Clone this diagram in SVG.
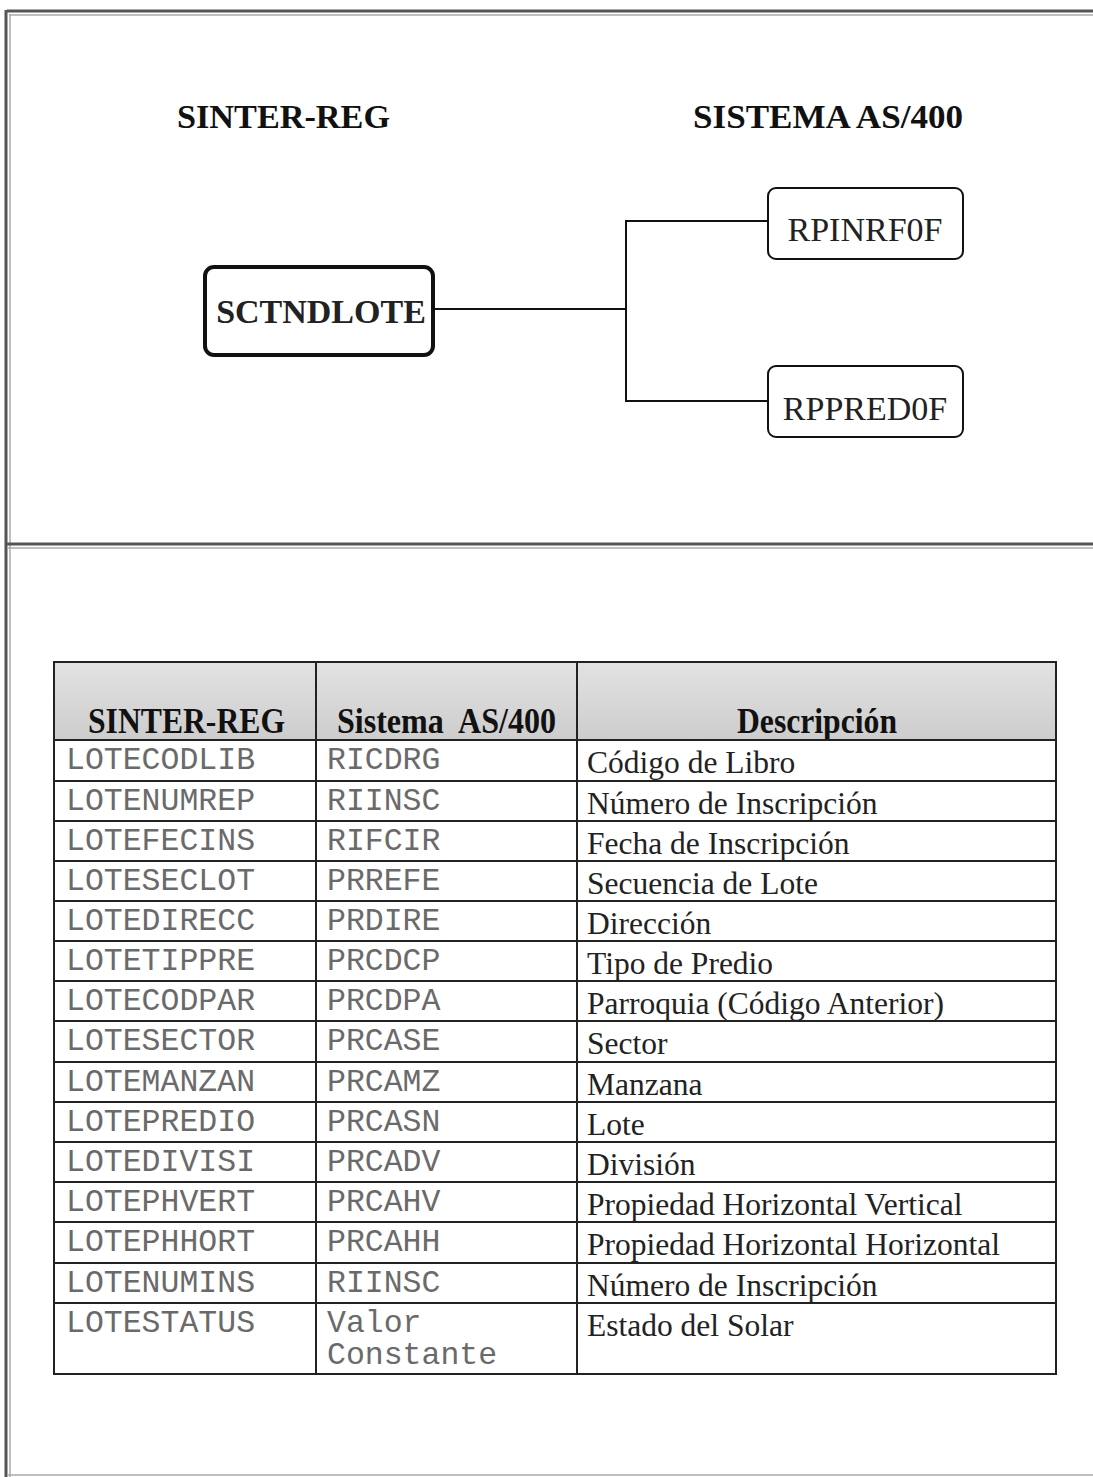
<svg xmlns="http://www.w3.org/2000/svg" width="1093" height="1477" viewBox="0 0 1093 1477">
<defs>
<linearGradient id="hdr" x1="0" y1="0" x2="0" y2="1">
<stop offset="0" stop-color="#e2e2e2"/>
<stop offset="1" stop-color="#cdcdcd"/>
</linearGradient>
</defs>
<style>
.frame{stroke:#555;stroke-width:3;fill:none}
.frame2{stroke:#aaa;stroke-width:1.5;fill:none}
.title{font-family:"Liberation Serif","Times New Roman",serif;font-weight:bold;font-size:34.5px;fill:#111}
.node{fill:#fff;stroke:#111}
.nlabel{font-family:"Liberation Serif","Times New Roman",serif;font-size:34px;fill:#222;text-anchor:middle}
.conn{stroke:#111;stroke-width:2;fill:none}
.grid{stroke:#222;stroke-width:2;fill:none}
.hd{font-family:"Liberation Serif","Times New Roman",serif;font-weight:bold;font-size:35px;fill:#111}
.mono{font-family:"Liberation Mono","Courier New",monospace;font-size:31.5px;fill:#6a6a6a}
.desc{font-family:"Liberation Serif","Times New Roman",serif;font-size:31.5px;fill:#222}
</style>

<g id="frame">
<line class="frame" x1="7" y1="11" x2="1093" y2="11"/>
<line class="frame2" x1="9" y1="15" x2="1093" y2="15"/>
<line class="frame" x1="6" y1="10" x2="6" y2="1477"/>
<line class="frame2" x1="10" y1="14" x2="10" y2="1477"/>
<line class="frame" x1="7" y1="544" x2="1093" y2="544"/>
<line class="frame2" x1="7" y1="548" x2="1093" y2="548"/>
<line class="frame2" x1="7" y1="1475" x2="1093" y2="1475"/>
</g>

<g id="titles">
<text class="title" x="177" y="128" textLength="213" lengthAdjust="spacingAndGlyphs">SINTER-REG</text>
<text class="title" x="693" y="128" textLength="270" lengthAdjust="spacingAndGlyphs">SISTEMA AS/400</text>
</g>

<g id="connectors">
<polyline class="conn" points="433,309 626,309"/>
<polyline class="conn" points="768,221 626,221 626,401 768,401"/>
</g>

<g id="node-sctndlote">
<rect class="node" x="205" y="267" width="228" height="88" rx="9" stroke-width="4"/>
<text class="nlabel" x="321" y="323" font-weight="bold" font-size="32">SCTNDLOTE</text>
</g>
<g id="node-rpinrf0f">
<rect class="node" x="768" y="188" width="195" height="71" rx="8" stroke-width="2"/>
<text class="nlabel" x="865" y="241">RPINRF0F</text>
</g>
<g id="node-rppred0f">
<rect class="node" x="768" y="366" width="195" height="71" rx="8" stroke-width="2"/>
<text class="nlabel" x="865" y="420">RPPRED0F</text>
</g>

<g id="table">
<rect x="54" y="662" width="1002" height="78" fill="url(#hdr)"/>
<text class="hd" x="88" y="733" textLength="197" lengthAdjust="spacingAndGlyphs">SINTER-REG</text>
<text class="hd" x="337" y="733" textLength="219" lengthAdjust="spacingAndGlyphs" xml:space="preserve">Sistema  AS/400</text>
<text class="hd" x="737" y="733" textLength="160" lengthAdjust="spacingAndGlyphs">Descripción</text>

<rect class="grid" x="54" y="662" width="1002" height="712" stroke-width="2.5"/>
<line class="grid" x1="316" y1="662" x2="316" y2="1374"/>
<line class="grid" x1="577" y1="662" x2="577" y2="1374"/>
<line class="grid" x1="54" y1="740" x2="1056" y2="740"/>
<line class="grid" x1="54" y1="781" x2="1056" y2="781"/>
<line class="grid" x1="54" y1="821" x2="1056" y2="821"/>
<line class="grid" x1="54" y1="861" x2="1056" y2="861"/>
<line class="grid" x1="54" y1="901" x2="1056" y2="901"/>
<line class="grid" x1="54" y1="941" x2="1056" y2="941"/>
<line class="grid" x1="54" y1="981" x2="1056" y2="981"/>
<line class="grid" x1="54" y1="1021" x2="1056" y2="1021"/>
<line class="grid" x1="54" y1="1062" x2="1056" y2="1062"/>
<line class="grid" x1="54" y1="1102" x2="1056" y2="1102"/>
<line class="grid" x1="54" y1="1142" x2="1056" y2="1142"/>
<line class="grid" x1="54" y1="1182" x2="1056" y2="1182"/>
<line class="grid" x1="54" y1="1222" x2="1056" y2="1222"/>
<line class="grid" x1="54" y1="1263" x2="1056" y2="1263"/>
<line class="grid" x1="54" y1="1303" x2="1056" y2="1303"/>

<text class="mono" x="66" y="769">LOTECODLIB</text><text class="mono" x="327" y="769">RICDRG</text><text class="desc" x="587" y="773">Código de Libro</text>
<text class="mono" x="66" y="810">LOTENUMREP</text><text class="mono" x="327" y="810">RIINSC</text><text class="desc" x="587" y="814">Número de Inscripción</text>
<text class="mono" x="66" y="850">LOTEFECINS</text><text class="mono" x="327" y="850">RIFCIR</text><text class="desc" x="587" y="854">Fecha de Inscripción</text>
<text class="mono" x="66" y="890">LOTESECLOT</text><text class="mono" x="327" y="890">PRREFE</text><text class="desc" x="587" y="894">Secuencia de Lote</text>
<text class="mono" x="66" y="930">LOTEDIRECC</text><text class="mono" x="327" y="930">PRDIRE</text><text class="desc" x="587" y="934">Dirección</text>
<text class="mono" x="66" y="970">LOTETIPPRE</text><text class="mono" x="327" y="970">PRCDCP</text><text class="desc" x="587" y="974">Tipo de Predio</text>
<text class="mono" x="66" y="1010">LOTECODPAR</text><text class="mono" x="327" y="1010">PRCDPA</text><text class="desc" x="587" y="1014">Parroquia (Código Anterior)</text>
<text class="mono" x="66" y="1050">LOTESECTOR</text><text class="mono" x="327" y="1050">PRCASE</text><text class="desc" x="587" y="1054">Sector</text>
<text class="mono" x="66" y="1091">LOTEMANZAN</text><text class="mono" x="327" y="1091">PRCAMZ</text><text class="desc" x="587" y="1095">Manzana</text>
<text class="mono" x="66" y="1131">LOTEPREDIO</text><text class="mono" x="327" y="1131">PRCASN</text><text class="desc" x="587" y="1135">Lote</text>
<text class="mono" x="66" y="1171">LOTEDIVISI</text><text class="mono" x="327" y="1171">PRCADV</text><text class="desc" x="587" y="1175">División</text>
<text class="mono" x="66" y="1211">LOTEPHVERT</text><text class="mono" x="327" y="1211">PRCAHV</text><text class="desc" x="587" y="1215">Propiedad Horizontal Vertical</text>
<text class="mono" x="66" y="1251">LOTEPHHORT</text><text class="mono" x="327" y="1251">PRCAHH</text><text class="desc" x="587" y="1255">Propiedad Horizontal Horizontal</text>
<text class="mono" x="66" y="1292">LOTENUMINS</text><text class="mono" x="327" y="1292">RIINSC</text><text class="desc" x="587" y="1296">Número de Inscripción</text>
<text class="mono" x="66" y="1332">LOTESTATUS</text><text class="mono" x="327" y="1332">Valor</text><text class="mono" x="327" y="1364">Constante</text><text class="desc" x="587" y="1336">Estado del Solar</text>
</g>
</svg>
